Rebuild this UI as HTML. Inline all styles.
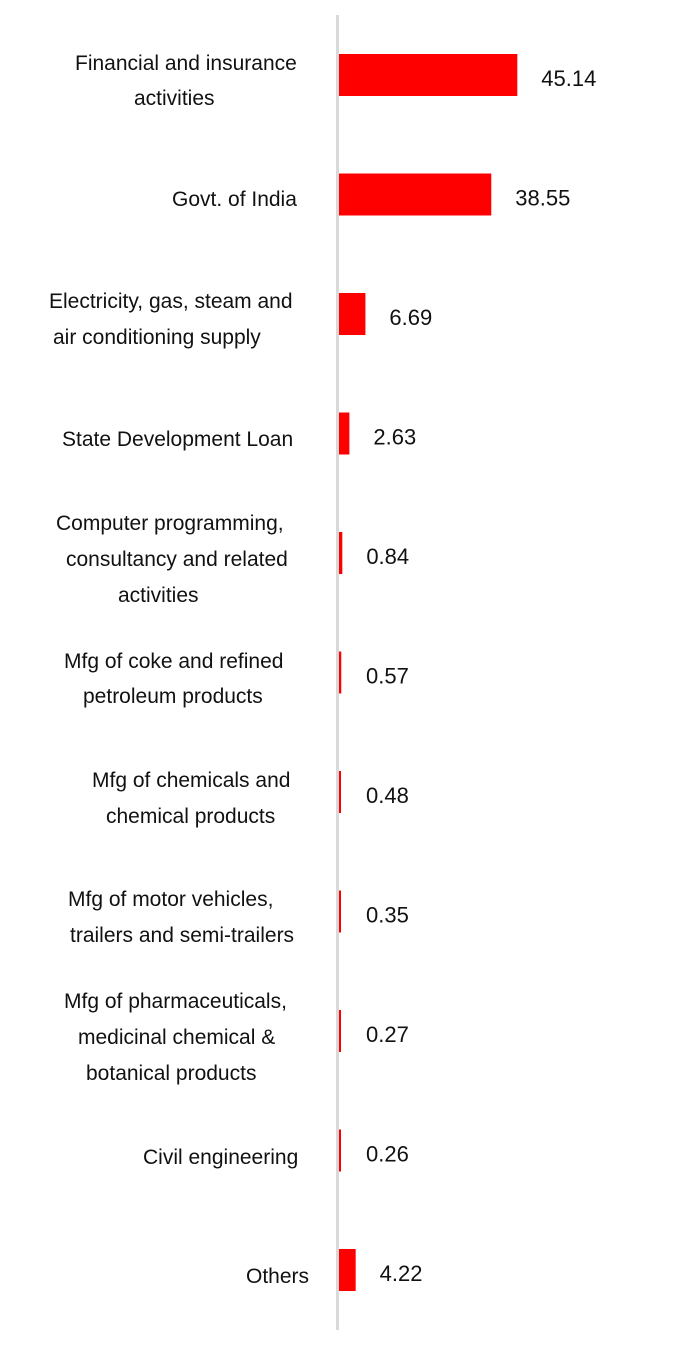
<!DOCTYPE html>
<html><head><meta charset="utf-8"><style>
html,body{margin:0;padding:0;background:#fff;}
svg{display:block;font-family:"Liberation Sans",sans-serif;}
</style></head><body>
<svg id="chart" width="700" height="1345" viewBox="0 0 700 1345" xmlns="http://www.w3.org/2000/svg">
<g id="labels" font-size="21" fill="#111">
<text x="75" y="70">Financial and insurance</text>
<text x="134" y="105">activities</text>
<text x="172" y="206">Govt. of India</text>
<text x="49" y="308">Electricity, gas, steam and</text>
<text x="53" y="344">air conditioning supply</text>
<text x="62" y="446">State Development Loan</text>
<text x="56" y="530">Computer programming,</text>
<text x="66" y="566">consultancy and related</text>
<text x="118" y="602">activities</text>
<text x="64" y="668">Mfg of coke and refined</text>
<text x="83" y="703">petroleum products</text>
<text x="92" y="787">Mfg of chemicals and</text>
<text x="106" y="823">chemical products</text>
<text x="68" y="906">Mfg of motor vehicles,</text>
<text x="70" y="942">trailers and semi-trailers</text>
<text x="64" y="1008">Mfg of pharmaceuticals,</text>
<text x="78" y="1044">medicinal chemical &amp;</text>
<text x="86" y="1080">botanical products</text>
<text x="143" y="1164">Civil engineering</text>
<text x="246" y="1283">Others</text>
</g>
<rect x="336" y="15" width="3" height="1315" fill="#d9d9d9"/>
<g id="bars"></g>
<g id="values" font-size="22" fill="#111"></g>
</svg>
<script>
const categories = ["Financial and insurance activities","Govt. of India","Electricity, gas, steam and air conditioning supply","State Development Loan","Computer programming, consultancy and related activities","Mfg of coke and refined petroleum products","Mfg of chemicals and chemical products","Mfg of motor vehicles, trailers and semi-trailers","Mfg of pharmaceuticals, medicinal chemical & botanical products","Civil engineering","Others"];
const values = [45.14, 38.55, 6.69, 2.63, 0.84, 0.57, 0.48, 0.35, 0.27, 0.26, 4.22];
const valueLabels = ["45.14","38.55","6.69","2.63","0.84","0.57","0.48","0.35","0.27","0.26","4.22"];

const NS = "http://www.w3.org/2000/svg";
const x0 = 339, pxPerUnit = 3.95;
function xScale(v){ return x0 + v * pxPerUnit; }
function yCenter(i){ return 75 + i * 119.5; }
const barH = 42;
const gb = document.getElementById('bars');
const gv = document.getElementById('values');
values.forEach((v, i) => {
  const r = document.createElementNS(NS, 'rect');
  
  
  r.setAttribute('x', x0);
  r.setAttribute('y', yCenter(i) - barH / 2);
  r.setAttribute('width', Math.max(2, xScale(v) - x0));
  r.setAttribute('height', barH);
  r.setAttribute('fill', '#ff0000');
  gb.appendChild(r);
  const t = document.createElementNS(NS, 'text');
  
  
  t.setAttribute('x', Math.max(xScale(v), x0 + 3) + 24);
  t.setAttribute('y', yCenter(i) + 11);
  t.textContent = valueLabels[i];
  gv.appendChild(t);
});
</script>
</body></html>
